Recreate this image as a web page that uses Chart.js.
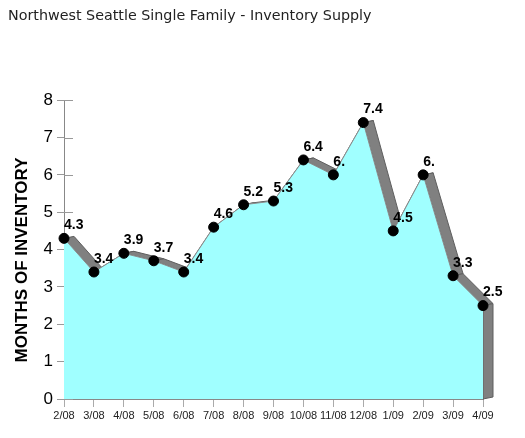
<!DOCTYPE html>
<html>
<head>
<meta charset="utf-8">
<script src="https://cdn.jsdelivr.net/npm/chart.js@4.4.0/dist/chart.umd.min.js"></script>
<style>
  html, body { margin: 0; padding: 0; background: #fff; }
</style>
</head>
<body>
<canvas id="myChart" width="525" height="438"></canvas>
<script>
const months = ['2/08', '3/08', '4/08', '5/08', '6/08', '7/08', '8/08', '9/08', '10/08', '11/08', '12/08', '1/09', '2/09', '3/09', '4/09'];
const inventory = [4.3, 3.4, 3.9, 3.7, 3.4, 4.6, 5.2, 5.3, 6.4, 6.0, 7.4, 4.5, 6.0, 3.3, 2.5];
const yTicks = [0, 1, 2, 3, 4, 5, 6, 7, 8];

// depth of the fake 3d side
const dx = 10, dy = -2;

const depthPlugin = {
    id: 'depth',
    beforeDatasetsDraw(chart) {
        const ctx = chart.ctx;
        const x = chart.scales.x, y = chart.scales.y;
        ctx.save();
        // short tick marks inside the plot
        ctx.strokeStyle = '#999';
        ctx.lineWidth = 1;
        yTicks.forEach(t => {
            const py = Math.round(y.getPixelForValue(t)) + 0.5;
            ctx.beginPath();
            ctx.moveTo(x.left, py);
            ctx.lineTo(x.left + 9, py);
            ctx.stroke();
        });
        const pts = inventory.map((v, i) => [x.getPixelForValue(i), y.getPixelForValue(v)]);
        ctx.fillStyle = '#808080';
        ctx.strokeStyle = '#5e5e5e';
        const face = (a, b) => {
            ctx.beginPath();
            ctx.moveTo(a[0], a[1]);
            ctx.lineTo(b[0], b[1]);
            ctx.lineTo(b[0] + dx, b[1] + dy);
            ctx.lineTo(a[0] + dx, a[1] + dy);
            ctx.closePath();
            ctx.fill();
            ctx.stroke();
        };
        for (let i = 0; i < pts.length - 1; i++) face(pts[i], pts[i + 1]);
        const last = pts[pts.length - 1];
        face(last, [last[0], y.getPixelForValue(0)]);
        ctx.restore();
    },
    afterDatasetsDraw(chart) {
        const ctx = chart.ctx;
        const x = chart.scales.x, y = chart.scales.y;
        ctx.save();
        ctx.font = 'bold 14px "Liberation Sans", Arial, sans-serif';
        ctx.fillStyle = '#000';
        ctx.textAlign = 'left';
        ctx.textBaseline = 'middle';
        inventory.forEach((v, i) => {
            const txt = Number.isInteger(v) ? v + '.' : v.toFixed(1);
            ctx.fillText(txt, x.getPixelForValue(i), y.getPixelForValue(v) - 13);
        });
        // y axis title
        ctx.font = 'bold 17px "Liberation Sans", Arial, sans-serif';
        ctx.textAlign = 'center';
        ctx.translate(22, 260);
        ctx.rotate(-Math.PI / 2);
        ctx.fillText('MONTHS OF INVENTORY', 0, 0);
        ctx.restore();
    }
};

const ctx = document.getElementById('myChart');
const myChart = new Chart(ctx, {
    type: 'line',
    data: {
        labels: months,
        datasets: [{
            data: inventory,
            borderColor: '#8c8c8c',
            borderWidth: 1,
            backgroundColor: '#a0ffff',
            fill: 'origin',
            tension: 0,
            pointRadius: 5,
            pointHoverRadius: 5,
            pointBackgroundColor: '#000',
            pointBorderColor: '#000',
            clip: false
        }]
    },
    options: {
        responsive: false,
        animation: false,
        layout: { padding: { left: 8, right: 42, top: 0, bottom: 0 } },
        plugins: {
            legend: { display: false },
            tooltip: { enabled: false },
            title: {
                display: true,
                text: 'Northwest Seattle Single Family - Inventory Supply',
                align: 'start',
                color: '#222',
                font: { family: '"DejaVu Sans", sans-serif', size: 14.3, weight: 'normal' },
                padding: { top: 8, bottom: 75 }
            }
        },
        scales: {
            x: {
                type: 'category',
                offset: false,
                grid: { display: true, drawOnChartArea: false, tickLength: 8, color: '#aaa' },
                border: { display: true, color: '#888' },
                ticks: {
                    font: { family: '"Liberation Sans", Arial, sans-serif', size: 11 },
                    color: '#222',
                    padding: 2,
                    maxRotation: 0,
                    autoSkip: false
                },
                afterFit(s) { s.height = 39; }
            },
            y: {
                min: 0,
                max: 8,
                grid: { display: true, drawOnChartArea: false, tickLength: 7, color: '#999' },
                border: { display: true, color: '#888' },
                ticks: {
                    stepSize: 1,
                    font: { family: '"Liberation Sans", Arial, sans-serif', size: 17 },
                    color: '#000',
                    padding: 4
                },
                afterFit(s) { s.width = 56; }
            }
        }
    },
    plugins: [depthPlugin]
});
</script>
</body>
</html>
